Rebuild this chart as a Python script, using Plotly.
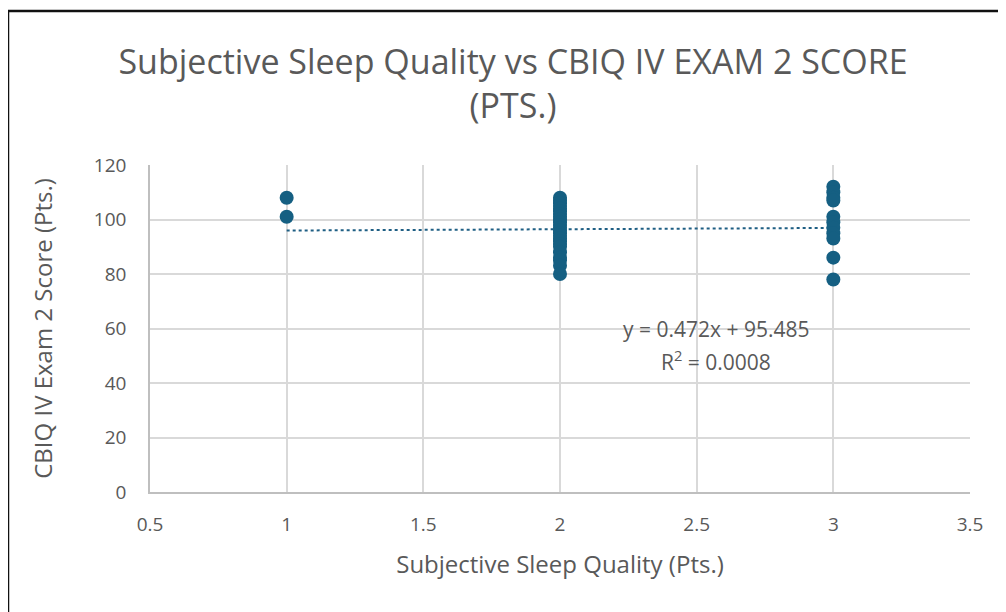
import plotly.graph_objects as go

# Data
sleep_quality = [1, 1] + [2] * 24 + [3] * 11
exam_score = (
    [108, 101]
    + [108, 107, 106, 105, 104, 103, 102, 101, 100, 99, 98, 97, 96, 95, 94, 93,
       92, 91, 90, 88, 86, 85, 83, 80]
    + [112, 110, 108, 107, 101, 99, 97, 95, 93, 86, 78]
)
trend_slope = 0.472
trend_intercept = 95.485
trend_x = [1, 3]
trend_equation = "y = 0.472x + 95.485"
trend_r2 = "R<sup>2</sup> = 0.0008"

x_ticks = [0.5, 1, 1.5, 2, 2.5, 3, 3.5]
y_ticks = [0, 20, 40, 60, 80, 100, 120]

GRAY = "#595959"
FONT = "'Open Sans', Lato, sans-serif"

# page is offset by the 8px body margin
W, H = 1006, 612
L, R, T, B = 142, 44, 157, 128
PW, PH = W - L - R, H - T - B


def px(xp):
    return (xp - 8 - L) / PW


def py(yp):
    return (H - B - (yp - 8)) / PH


fig = go.Figure()
fig.add_trace(go.Scatter(
    x=trend_x,
    y=[trend_slope * v + trend_intercept for v in trend_x],
    mode="lines",
    line=dict(color="#1f5f84", width=2, dash="dot"),
    hoverinfo="skip",
    showlegend=False,
))
fig.add_trace(go.Scatter(
    x=sleep_quality, y=exam_score, mode="markers",
    marker=dict(color="#155f82", size=14),
    showlegend=False,
))

fig.add_annotation(
    x=2.571, y=59.8, xref="x", yref="y", text=trend_equation, showarrow=False,
    xanchor="center", yanchor="middle",
    font=dict(family=FONT, size=21, color=GRAY),
)
fig.add_annotation(
    x=2.571, y=48.4, xref="x", yref="y", text=trend_r2, showarrow=False,
    xanchor="center", yanchor="middle",
    font=dict(family=FONT, size=21, color=GRAY),
)

# outer frame (top and left dark, right light)
fig.add_shape(type="line", xref="paper", yref="paper",
              x0=px(7), x1=px(1003), y0=py(11), y1=py(11),
              line=dict(color="#111111", width=2.5))
fig.add_shape(type="line", xref="paper", yref="paper",
              x0=px(8), x1=px(8), y0=py(11), y1=py(620),
              line=dict(color="#111111", width=2.5))
fig.add_shape(type="line", xref="paper", yref="paper",
              x0=px(1003), x1=px(1003), y0=py(11), y1=py(620),
              line=dict(color="#d0d0d0", width=1))

fig.update_layout(
    width=W, height=H,
    margin=dict(l=L, r=R, t=T, b=B),
    paper_bgcolor="white", plot_bgcolor="white",
    title=dict(
        text="Subjective Sleep Quality vs CBIQ IV EXAM 2 SCORE<br>(PTS.)",
        x=(513 - 8) / W, xref="container", xanchor="center",
        y=1 - 66 / H, yref="container", yanchor="middle",
        font=dict(family=FONT, size=34, color=GRAY),
    ),
    font=dict(family=FONT, color=GRAY),
    xaxis=dict(
        range=[0.5, 3.5], tickvals=x_ticks, ticktext=[f"{v:g}" for v in x_ticks],
        showgrid=True, gridcolor="#d9d9d9", gridwidth=1.5,
        showline=True, linecolor="#bfbfbf", linewidth=1.5, zeroline=False,
        tickfont=dict(size=19, color=GRAY), ticks="", ticklabelstandoff=14,
        title=dict(text="Subjective Sleep Quality (Pts.)",
                   font=dict(size=24, color=GRAY), standoff=21),
    ),
    yaxis=dict(
        range=[0, 120], tickvals=y_ticks,
        showgrid=True, gridcolor="#d9d9d9", gridwidth=1.5,
        showline=True, linecolor="#bfbfbf", linewidth=1.5, zeroline=False,
        tickfont=dict(size=19, color=GRAY), ticks="", ticklabelstandoff=18,
        title=dict(text="CBIQ IV Exam 2 Score (Pts.)",
                   font=dict(size=24, color=GRAY), standoff=34),
    ),
)

fig.write_html("out.html")
